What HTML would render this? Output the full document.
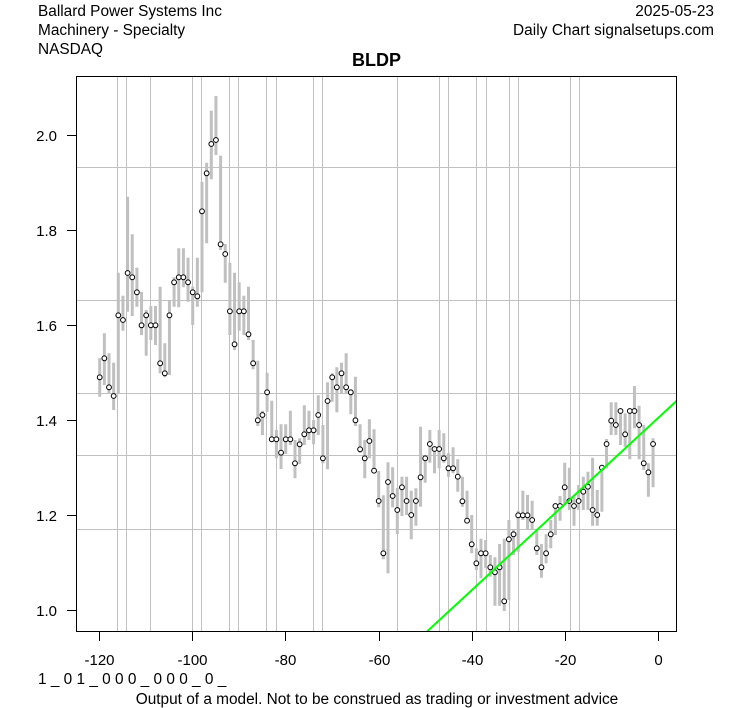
<!DOCTYPE html>
<html><head><meta charset="utf-8"><style>
html,body{margin:0;padding:0;background:#fff;}
svg{display:block;}
text{font-family:"Liberation Sans",Arial,sans-serif;fill:#000;}
circle{r:2.4px;}
</style></head><body>
<svg width="753" height="708" viewBox="0 0 753 708" xmlns="http://www.w3.org/2000/svg">
<rect x="0" y="0" width="753" height="708" fill="#fff"/>
<defs><clipPath id="pc"><rect x="76.5" y="76.5" width="600" height="555"/></clipPath></defs>
<g stroke="#c0c0c0" stroke-width="1" fill="none">
<path d="M117.5 77V631M126.5 77V631M150.5 77V631M192.5 77V631M201.5 77V631M229.5 77V631M238.5 77V631M266.5 77V631M276.5 77V631M313.5 77V631M322.5 77V631M397.5 77V631M439.5 77V631M448.5 77V631M476.5 77V631M486.5 77V631M509.5 77V631M518.5 77V631M570.5 77V631M579.5 77V631"/>
<path d="M77 167.5H676M77 300.5H676M77 393.5H676M77 455.5H676M77 529.5H676"/>
</g>
<path stroke="#c0c0c0" stroke-width="3" fill="none" d="
M99.7 358.3V396.7M104.35 333.3V385M109 353.3V393.3M113.65 362.7V410M118.3 272.7V393M122.95 295.7V330.7M127.6 196.7V311.7M132.25 234.3V316M136.9 267.7V306.7M141.55 291.7V335M146.2 310V355.7M150.85 306V340M155.5 306V345M160.15 286.7V373.3M164.8 343.3V377.3M169.45 300.7V375M174.1 277.3V306.7M178.75 248.3V307.3M183.4 248.3V287.3M188.05 257.7V301.7M192.7 286.7V325M197.35 257.7V306.7M202 181.7V292.3M206.65 162.7V243.3M211.3 110.7V179.3M215.95 96V155M220.6 155.7V250M225.25 244V282.7M229.9 262.7V335M234.55 272.7V350M239.2 282.3V330.7M243.85 295.7V335M248.5 286.7V340M253.15 340V369.3M257.8 360.7V426M262.45 410.7V435M267.1 372.7V411.7M271.75 400.7V441.7M276.4 430V458.3M281.05 424.3V469M285.7 424.3V454M290.35 410.7V445M295 440V478.3M299.65 438.3V464M304.3 405.3V445M308.95 410.7V440M313.6 420V444.3M318.25 395.3V435M322.9 425V463.3M327.55 382.3V469.3M332.2 373.3V401.7M336.85 367.3V412.3M341.5 362.7V393.3M346.15 353.3V393.3M350.8 389.3V414.3M355.45 376.7V426M360.1 424.3V452.7M364.75 440V478.3M369.4 419.3V458.3M374.05 429.3V473.3M378.7 471V507.3M383.35 495.3V559.3M388 462.3V573.3M392.65 467.3V507.3M397.3 488V534M401.95 476.7V516M406.6 476.7V515M411.25 490.7V539.3M415.9 488.3V525.7M420.55 426.7V506.7M425.2 455V482.7M429.85 430V462.7M434.5 446.7V473.3M439.15 430V468.3M443.8 433.3V462.7M448.45 453.3V476.7M453.1 447.3V473.3M457.75 459.3V491.7M462.4 476.7V506.7M467.05 490.7V521.7M471.7 515V553.3M476.35 548.3V570M481 538.7V578.3M485.65 540V568.3M490.3 555V576.7M494.95 557.3V605.7M499.6 544V605.7M504.25 538.7V611M508.9 520V600M513.55 530V555M518.2 510.7V551.7M522.85 490.7V520M527.5 495V529.3M532.15 500.7V529.3M536.8 530V555M541.45 544V577.7M546.1 534.3V563.3M550.75 520V548.3M555.4 503.3V535M560.05 496V520.7M564.7 462.7V505M569.35 467.7V510M574 496.7V525.7M578.65 485V510M583.3 476.7V510M587.95 471.7V510M592.6 457.7V525.7M597.25 490V525.7M601.9 465.7V511.7M606.55 439V468.3M611.2 402.3V435M615.85 402.3V435M620.5 408.3V445M625.15 413.3V446.7M629.8 408.3V459.3M634.45 386V428.3M639.1 405.7V459.3M643.75 425V470M648.4 463.3V496.7M653.05 438.3V487.3"/>
<g fill="#fff" stroke="#000" stroke-width="1">
<circle cx="99.7" cy="377.3" r="2.4"/><circle cx="104.35" cy="358.3" r="2.4"/><circle cx="109" cy="387.3" r="2.4"/><circle cx="113.65" cy="396" r="2.4"/><circle cx="118.3" cy="315.3" r="2.4"/><circle cx="122.95" cy="320" r="2.4"/><circle cx="127.6" cy="273" r="2.4"/><circle cx="132.25" cy="277.3" r="2.4"/><circle cx="136.9" cy="292.3" r="2.4"/><circle cx="141.55" cy="325.3" r="2.4"/><circle cx="146.2" cy="315.3" r="2.4"/><circle cx="150.85" cy="325.3" r="2.4"/><circle cx="155.5" cy="325.3" r="2.4"/><circle cx="160.15" cy="363.3" r="2.4"/><circle cx="164.8" cy="373.3" r="2.4"/><circle cx="169.45" cy="315.3" r="2.4"/><circle cx="174.1" cy="282.3" r="2.4"/><circle cx="178.75" cy="277.3" r="2.4"/><circle cx="183.4" cy="277.3" r="2.4"/><circle cx="188.05" cy="282.3" r="2.4"/><circle cx="192.7" cy="292.3" r="2.4"/><circle cx="197.35" cy="296.3" r="2.4"/><circle cx="202" cy="211.3" r="2.4"/><circle cx="206.65" cy="173.3" r="2.4"/><circle cx="211.3" cy="144" r="2.4"/><circle cx="215.95" cy="140" r="2.4"/><circle cx="220.6" cy="244.3" r="2.4"/><circle cx="225.25" cy="254" r="2.4"/><circle cx="229.9" cy="311.3" r="2.4"/><circle cx="234.55" cy="344.3" r="2.4"/><circle cx="239.2" cy="311.3" r="2.4"/><circle cx="243.85" cy="311.3" r="2.4"/><circle cx="248.5" cy="334.3" r="2.4"/><circle cx="253.15" cy="363.3" r="2.4"/><circle cx="257.8" cy="420.3" r="2.4"/><circle cx="262.45" cy="415" r="2.4"/><circle cx="267.1" cy="392.3" r="2.4"/><circle cx="271.75" cy="439.3" r="2.4"/><circle cx="276.4" cy="439.3" r="2.4"/><circle cx="281.05" cy="452.7" r="2.4"/><circle cx="285.7" cy="439.3" r="2.4"/><circle cx="290.35" cy="439.3" r="2.4"/><circle cx="295" cy="463.3" r="2.4"/><circle cx="299.65" cy="444.3" r="2.4"/><circle cx="304.3" cy="434.3" r="2.4"/><circle cx="308.95" cy="430.3" r="2.4"/><circle cx="313.6" cy="430.3" r="2.4"/><circle cx="318.25" cy="415" r="2.4"/><circle cx="322.9" cy="458.3" r="2.4"/><circle cx="327.55" cy="401" r="2.4"/><circle cx="332.2" cy="377.3" r="2.4"/><circle cx="336.85" cy="387.3" r="2.4"/><circle cx="341.5" cy="373.3" r="2.4"/><circle cx="346.15" cy="387.3" r="2.4"/><circle cx="350.8" cy="392.3" r="2.4"/><circle cx="355.45" cy="420.3" r="2.4"/><circle cx="360.1" cy="449.3" r="2.4"/><circle cx="364.75" cy="458.3" r="2.4"/><circle cx="369.4" cy="441" r="2.4"/><circle cx="374.05" cy="470.7" r="2.4"/><circle cx="378.7" cy="501" r="2.4"/><circle cx="383.35" cy="553.3" r="2.4"/><circle cx="388" cy="482" r="2.4"/><circle cx="392.65" cy="496" r="2.4"/><circle cx="397.3" cy="510" r="2.4"/><circle cx="401.95" cy="487.3" r="2.4"/><circle cx="406.6" cy="501" r="2.4"/><circle cx="411.25" cy="515" r="2.4"/><circle cx="415.9" cy="501" r="2.4"/><circle cx="420.55" cy="477.3" r="2.4"/><circle cx="425.2" cy="458.3" r="2.4"/><circle cx="429.85" cy="444" r="2.4"/><circle cx="434.5" cy="449" r="2.4"/><circle cx="439.15" cy="449" r="2.4"/><circle cx="443.8" cy="458.3" r="2.4"/><circle cx="448.45" cy="468.3" r="2.4"/><circle cx="453.1" cy="468.3" r="2.4"/><circle cx="457.75" cy="476.7" r="2.4"/><circle cx="462.4" cy="501.3" r="2.4"/><circle cx="467.05" cy="520.7" r="2.4"/><circle cx="471.7" cy="544.3" r="2.4"/><circle cx="476.35" cy="563.3" r="2.4"/><circle cx="481" cy="553.3" r="2.4"/><circle cx="485.65" cy="553.3" r="2.4"/><circle cx="490.3" cy="567.3" r="2.4"/><circle cx="494.95" cy="572.3" r="2.4"/><circle cx="499.6" cy="567.3" r="2.4"/><circle cx="504.25" cy="601.3" r="2.4"/><circle cx="508.9" cy="539.3" r="2.4"/><circle cx="513.55" cy="534.3" r="2.4"/><circle cx="518.2" cy="515.3" r="2.4"/><circle cx="522.85" cy="515.3" r="2.4"/><circle cx="527.5" cy="515.3" r="2.4"/><circle cx="532.15" cy="520" r="2.4"/><circle cx="536.8" cy="548.3" r="2.4"/><circle cx="541.45" cy="567.3" r="2.4"/><circle cx="546.1" cy="553.3" r="2.4"/><circle cx="550.75" cy="534.3" r="2.4"/><circle cx="555.4" cy="506" r="2.4"/><circle cx="560.05" cy="506" r="2.4"/><circle cx="564.7" cy="487.3" r="2.4"/><circle cx="569.35" cy="501" r="2.4"/><circle cx="574" cy="506" r="2.4"/><circle cx="578.65" cy="501" r="2.4"/><circle cx="583.3" cy="491.7" r="2.4"/><circle cx="587.95" cy="486.7" r="2.4"/><circle cx="592.6" cy="510" r="2.4"/><circle cx="597.25" cy="515" r="2.4"/><circle cx="601.9" cy="467.7" r="2.4"/><circle cx="606.55" cy="444" r="2.4"/><circle cx="611.2" cy="420.7" r="2.4"/><circle cx="615.85" cy="425" r="2.4"/><circle cx="620.5" cy="411" r="2.4"/><circle cx="625.15" cy="434.3" r="2.4"/><circle cx="629.8" cy="411" r="2.4"/><circle cx="634.45" cy="411" r="2.4"/><circle cx="639.1" cy="425" r="2.4"/><circle cx="643.75" cy="463.3" r="2.4"/><circle cx="648.4" cy="472.3" r="2.4"/><circle cx="653.05" cy="444" r="2.4"/>
</g>
<g clip-path="url(#pc)">
<line x1="426.5" y1="632" x2="677" y2="400.5" stroke="#00ff00" stroke-width="2"/>
</g>
<rect x="76.5" y="76.5" width="600" height="555" fill="none" stroke="#000" stroke-width="1"/>
<g stroke="#000" stroke-width="1">
<path d="M99.5 632V641M192.5 632V641M285.5 632V641M379.5 632V641M472.5 632V641M565.5 632V641M658.5 632V641"/>
<path d="M67 135.5H76M67 230.5H76M67 325.5H76M67 420.5H76M67 515.5H76M67 610.5H76"/>
</g>
<g font-size="15" text-anchor="middle">
<text x="99.5" y="665">-120</text>
<text x="192.5" y="665">-100</text>
<text x="285.5" y="665">-80</text>
<text x="379.5" y="665">-60</text>
<text x="472.5" y="665">-40</text>
<text x="565.5" y="665">-20</text>
<text x="658.5" y="665">0</text>
</g>
<g font-size="15" text-anchor="end">
<text x="57" y="141">2.0</text>
<text x="57" y="236">1.8</text>
<text x="57" y="331">1.6</text>
<text x="57" y="426">1.4</text>
<text x="57" y="521">1.2</text>
<text x="57" y="616">1.0</text>
</g>
<g font-size="15.4">
<text x="38" y="16">Ballard Power Systems Inc</text>
<text x="38" y="35">Machinery - Specialty</text>
<text x="38" y="54">NASDAQ</text>
<text x="714" y="16" text-anchor="end">2025-05-23</text>
<text x="714" y="35" text-anchor="end" textLength="201">Daily Chart signalsetups.com</text>
<text x="38" y="684">1 _ 0 1 _ 0 0 0 _ 0 0 0 _ 0 _</text>
<text x="377" y="704" text-anchor="middle">Output of a model. Not to be construed as trading or investment advice</text>
</g>
<text x="376.5" y="66" font-size="18" font-weight="bold" text-anchor="middle">BLDP</text>
</svg>
</body></html>
